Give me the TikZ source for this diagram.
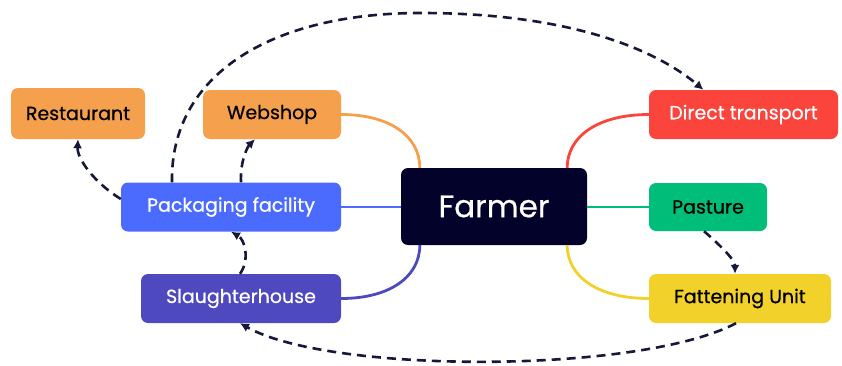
\documentclass[tikz,border=0pt]{standalone}
\usepackage{fontspec}
\setmainfont{Poppins}[FakeBold=0.5]
\newfontfamily\labfont{Poppins}[FakeBold=0.6]
\usetikzlibrary{calc,arrows.meta}
\definecolor{corange}{HTML}{F5A04C}
\definecolor{cred}{HTML}{FA443C}
\definecolor{cblue}{HTML}{4B6BFF}
\definecolor{cindigo}{HTML}{4E49BE}
\definecolor{cgreen}{HTML}{00BD7A}
\definecolor{cyellow}{HTML}{F1D12A}
\definecolor{cnavy}{HTML}{02022B}
\definecolor{cdash}{HTML}{15183A}
\tikzset{
  box/.style={rounded corners=7pt, inner sep=0pt, font=\labfont\fontsize{19}{22}\selectfont, draw=none},
  link/.style={line width=2.8pt},
  flow/.style={line width=2.6pt, cdash, dash pattern=on 9pt off 6pt, -{Latex[length=9pt,width=9pt]}},
}
\begin{document}
\begin{tikzpicture}[x=1pt,y=1pt]
\useasboundingbox (0,0) rectangle (842,365);
\node[box, fill=corange, text=black, minimum width=134pt, minimum height=51pt] (rest) at (78,251.5) {Restaurant};
\node[box, fill=corange, text=black, minimum width=138pt, minimum height=49pt] (web) at (272,250.5) {Webshop};
\node[box, fill=cred, text=white, minimum width=189pt, minimum height=49pt] (dt) at (743.5,250.5) {Direct transport};
\node[box, fill=cblue, text=white, minimum width=220pt, minimum height=49pt] (pack) at (231,158) {Packaging facility};
\node[box, fill=cindigo, text=white, minimum width=200pt, minimum height=49pt] (sl) at (241,66.5) {Slaughterhouse};
\node[box, fill=cnavy, text=white, minimum width=186pt, minimum height=77pt, font=\labfont\fontsize{31}{34}\selectfont] (farm) at (494,158.5) {Farmer};
\node[box, fill=cgreen, text=black, minimum width=118pt, minimum height=48pt] (pas) at (708,158) {Pasture};
\node[box, fill=cyellow, text=black, minimum width=182pt, minimum height=49pt] (fat) at (740,66.5) {Fattening Unit};

% solid links
\draw[link, corange] (web.east) .. controls +(48,0) and +(0,32) .. ($(farm.north west)+(19,0)$);
\draw[link, cred] (dt.west) .. controls +(-50,0) and +(0,32) .. ($(farm.north east)+(-20,0)$);
\draw[link, cblue] (pack.east) -- (farm.west |- pack.east);
\draw[link, cgreen] (farm.east |- pas.west) -- (pas.west);
\draw[link, cindigo] (sl.east) .. controls +(48,0) and +(0,-32) .. ($(farm.south west)+(19,0)$);
\draw[link, cyellow] (fat.west) .. controls +(-50,0) and +(0,-32) .. ($(farm.south east)+(-20,0)$);

% dashed flows
\draw[flow] ($(pack.west)+(0,8)$) .. controls +(-26,16) and +(-1,-20) .. (rest.south);
\draw[flow] ($(pack.north)+(10,0)$) .. controls +(-1,22) and +(-7,-7) .. ($(web.south)+(-17,0)$);
\draw[flow] ($(sl.north)+(-1,0)$) .. controls +(10,14) and +(14,-8) .. (pack.south);
\draw[flow] ($(pas.south)+(-4,0)$) .. controls +(16,-14) and +(0,14) .. ($(fat.north)+(-5,0)$);
\draw[flow] ($(fat.south)+(-4,0)$) .. controls (640,-9) and (330,-9) .. ($(sl.south)+(-1,0)$);
\draw[flow] ($(pack.north)+(-59,0)$) .. controls +(-2,107) and (270,352) .. (421,352) .. controls (560,352) and (650,320) .. ($(dt.north)+(-40,0)$);
\end{tikzpicture}
\end{document}
